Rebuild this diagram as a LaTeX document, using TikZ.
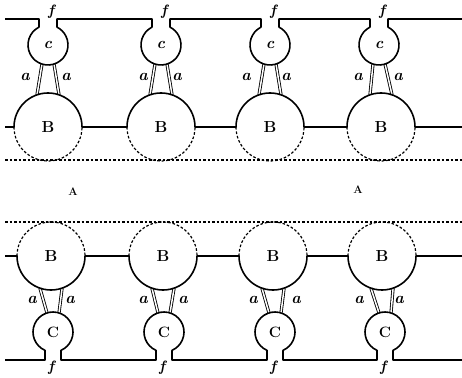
\documentclass[tikz,border=0pt]{standalone}
\usetikzlibrary{calc}
\begin{document}
\begin{tikzpicture}[x=1pt,y=1pt,
  wall/.style={line width=1.6pt, line join=round},
  dotline/.style={line width=1.2pt, dash pattern=on 2.6pt off 1.9pt},
  tube/.style={line width=0.85pt, double=white, double distance=1.5pt},
  lblB/.style={inner sep=0pt, font=\fontsize{16}{16}\selectfont\bfseries},
  lblc/.style={inner sep=0pt, font=\fontsize{16}{16}\selectfont\bfseries\itshape},
  lblC/.style={inner sep=0pt, font=\fontsize{15}{15}\selectfont\bfseries},
  lbla/.style={inner sep=0pt, font=\fontsize{16}{16}\selectfont\bfseries\itshape},
  lblf/.style={inner sep=0pt, font=\fontsize{15}{15}\selectfont\bfseries\itshape},
  lblA/.style={inner sep=0pt, font=\fontsize{11}{11}\selectfont\bfseries}]
\useasboundingbox (0,0) rectangle (462,377);

% ---------------- top panel ----------------
% tubes
\foreach \c/\b in {48/48,161/161,270/270,379/381}{
  \draw[tube] ($(\c,332)+(252.5:20)$) -- ($(\b,250)+(108.9:34)$);
  \draw[tube] ($(\c,332)+(287.5:20)$) -- ($(\b,250)+(71.1:34)$);
}
% upper wall with C bulbs
\draw[wall] (5,358) foreach \c in {48,161,270,379}{
  -- (\c-9,358) -- (\c-9,349.86) arc[start angle=116.74, end angle=423.26, radius=20] -- (\c+9,358)
} -- (462,358);
% middle wall with B (upper halves)
\draw[wall] (5,250) foreach \b in {48,161,270,381}{
  -- (\b-34,250) arc[start angle=180, end angle=0, radius=34]
} -- (462,250);
\foreach \b in {48,161,270,381}{
  \draw[dotline] (\b-34,250) arc[start angle=180, end angle=360, radius=34];
}
\draw[dotline] (5,217) -- (462,217);

% labels top
\foreach \c/\b [count=\i] in {48/48,161/161,270/270,379/381}{
  \node[lblc] (tc\i) at (\c,332) {c};
  \node[lblB] (tB\i) at (\b,250) {B};
  \node[lblf] (tf\i) at (\c+3,365) {f};
}
\foreach \x [count=\i] in {25,143,246,358}{
  \node[lbla] (tal\i) at (\x,300) {a};
}
\foreach \x [count=\i] in {66,177,286,398}{
  \node[lbla] (tar\i) at (\x,300) {a};
}
\node[lblA] (A1) at (73,185) {A};
\node[lblA] (A2) at (358,187) {A};

% ---------------- bottom panel ----------------
\foreach \b/\c in {51/53,163/164,273/275,382/385}{
  \draw[tube] ($(\b,121)+(251:34)$) -- ($(\c,45)+(107.5:20)$);
  \draw[tube] ($(\b,121)+(289:34)$) -- ($(\c,45)+(72.5:20)$);
}
\draw[wall] (5,17) foreach \c in {53,164,275,385}{
  -- (\c-8,17) -- (\c-8,26.67) arc[start angle=246.42, end angle=-66.42, radius=20] -- (\c+8,17)
} -- (462,17);
\draw[wall] (5,121) foreach \b in {51,163,273,382}{
  -- (\b-34,121) arc[start angle=180, end angle=360, radius=34]
} -- (462,121);
\foreach \b in {51,163,273,382}{
  \draw[dotline] (\b-34,121) arc[start angle=180, end angle=0, radius=34];
}
\draw[dotline] (5,155) -- (462,155);

\foreach \b/\c [count=\i] in {51/53,163/164,273/275,382/385}{
  \node[lblC] (bC\i) at (\c,45) {C};
  \node[lblB] (bB\i) at (\b,121) {B};
  \node[lblf] (bf\i) at (\c-2,9) {f};
}
\foreach \x [count=\i] in {32,143,253,359}{
  \node[lbla] (bal\i) at (\x,77) {a};
}
\foreach \x [count=\i] in {70,183,296,399}{
  \node[lbla] (bar\i) at (\x,77) {a};
}
\end{tikzpicture}
\end{document}
